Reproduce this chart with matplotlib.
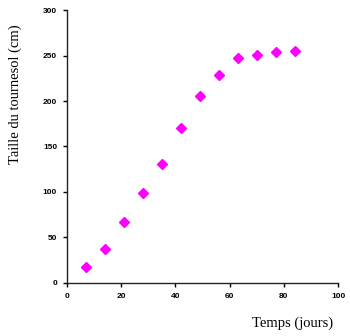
import matplotlib
matplotlib.use("Agg")
import matplotlib.pyplot as plt

# growth of the sunflower
jours = [7, 14, 21, 28, 35, 42, 49, 56, 63, 70, 77, 84]
taille = [18, 37, 67, 99, 131, 170, 206, 229, 247, 251, 254, 255]
xticks = [0, 20, 40, 60, 80, 100]
yticks = [0, 50, 100, 150, 200, 250, 300]

fig = plt.figure(figsize=(3.5, 3.36), dpi=100)
ax = fig.add_axes([0.191, 0.158, 0.775, 0.812])

ax.plot(jours, taille, linestyle="none", marker="D", markersize=5,
        color="#ff00ff", markeredgecolor="#ff00ff")

ax.set_xlim(0, 100)
ax.set_ylim(0, 300)
ax.set_xticks(xticks)
ax.set_yticks(yticks)
ax.spines["top"].set_visible(False)
ax.spines["right"].set_visible(False)
for s in ["left", "bottom"]:
    ax.spines[s].set_linewidth(1.0)
    ax.spines[s].set_color("#222222")
ax.tick_params(direction="out", length=3, width=1, labelsize=6, pad=4)
for lab in ax.get_xticklabels() + ax.get_yticklabels():
    lab.set_fontweight("bold")
    lab.set_family("Liberation Sans")

fig.text(0.043, 0.72, "Taille du tournesol (cm)", rotation=90,
         ha="center", va="center", family="Liberation Serif", fontsize=10.5)
fig.text(0.837, 0.038, "Temps (jours)", ha="center", va="center",
         family="Liberation Serif", fontsize=10.5)

fig.savefig("out.png", dpi=100)
